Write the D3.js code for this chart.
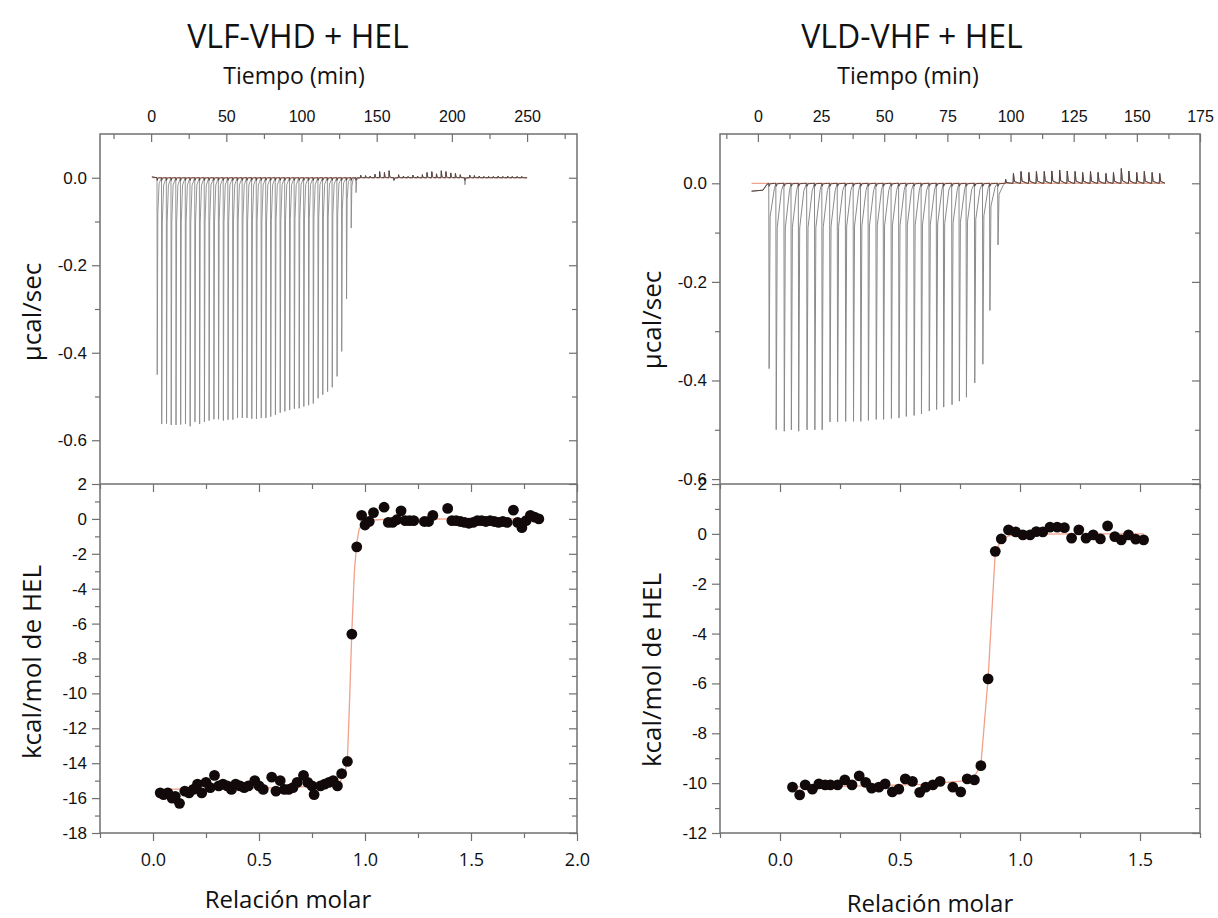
<!DOCTYPE html>
<html>
<head>
<meta charset="utf-8">
<title>ITC VLF-VHD / VLD-VHF + HEL</title>
<script src="https://cdn.jsdelivr.net/npm/d3@7"></script>
<style>
  body { margin: 0; background: #fff; }
</style>
</head>
<body>
<svg id="chart" width="1218" height="918"></svg>
<script>
// ---- data ----
// raw thermograms: [time (min), peak height (ucal/sec)]
var leftPeaks = [
  [3.9,-0.45],[6.9,-0.563],[10.1,-0.562],[13.2,-0.565],[16.4,-0.565],[19.5,-0.564],[22.7,-0.563],
  [25.8,-0.568],[29.0,-0.558],[32.1,-0.563],[35.3,-0.558],[38.4,-0.555],[41.6,-0.552],[44.7,-0.552],
  [47.9,-0.555],[51.0,-0.553],[54.2,-0.553],[57.3,-0.549],[60.5,-0.549],[63.6,-0.549],[66.8,-0.551],
  [69.9,-0.551],[73.1,-0.549],[76.2,-0.549],[79.4,-0.546],[82.5,-0.542],[85.7,-0.537],[88.8,-0.534],
  [92.0,-0.531],[95.1,-0.528],[98.3,-0.527],[101.4,-0.523],[104.6,-0.52],[107.7,-0.516],[110.9,-0.504],
  [114.0,-0.496],[117.2,-0.489],[120.3,-0.479],[123.5,-0.454],[126.6,-0.397],[129.8,-0.277],
  [132.9,-0.115],[136.1,-0.034],[139.2,0.006],[142.4,0.005],[145.5,0.004],[148.7,0.008],[151.8,0.014],
  [155.0,0.012],[158.1,0.016],[161.3,-0.006],[164.4,0.007],[167.6,0.004],[170.7,0.003],[173.9,0.006],
  [177.0,0.004],[180.2,0.007],[183.3,0.012],[186.5,0.014],[189.6,0.009],[192.8,0.016],[195.9,0.014],
  [199.1,0.011],[202.2,0.01],[205.4,0.007],[208.5,-0.016],[211.7,0.006],[214.8,0.005],[218.0,0.004],
  [221.1,0.003],[224.3,0.003],[227.4,0.003],[230.6,0.004],[233.7,0.003],[236.9,0.004],[240.0,0.003],
  [243.2,0.003],[246.3,0.003]
];
var rightPeaks = [
  [4.3,-0.376],[7.1,-0.50],[10.3,-0.503],[13.1,-0.50],[16.0,-0.503],[19.3,-0.50],[22.4,-0.50],
  [25.3,-0.50],[28.4,-0.484],[31.4,-0.484],[34.6,-0.483],[37.7,-0.483],[40.6,-0.483],[43.6,-0.481],
  [46.7,-0.479],[49.6,-0.479],[52.7,-0.477],[55.7,-0.476],[58.6,-0.473],[61.7,-0.471],[64.6,-0.468],
  [67.7,-0.462],[70.6,-0.459],[73.4,-0.454],[76.7,-0.449],[79.6,-0.442],[82.4,-0.434],[85.7,-0.405],
  [88.9,-0.367],[91.7,-0.258],[94.9,-0.125],[97.9,0.008],[101.0,0.02],[104.0,0.024],[107.1,0.022],
  [110.1,0.024],[113.2,0.024],[116.2,0.025],[119.3,0.027],[122.3,0.025],[125.4,0.024],[128.4,0.022],
  [131.5,0.024],[134.5,0.022],[137.6,0.02],[140.6,0.022],[143.7,0.03],[146.7,0.025],[149.8,0.022],
  [152.8,0.024],[155.9,0.022],[158.9,0.02]
];
var rightPreBase = [[-2.5,-0.016],[2.0,-0.014],[3.6,-0.002]];

// integrated heats: [molar ratio, kcal/mol]
var leftPoints = [
  [0.034,-15.7],[0.05,-15.8],[0.07,-15.7],[0.09,-16.0],[0.105,-15.9],[0.125,-16.3],[0.15,-15.6],
  [0.17,-15.7],[0.19,-15.5],[0.21,-15.2],[0.23,-15.7],[0.25,-15.1],[0.27,-15.4],[0.29,-14.7],
  [0.31,-15.3],[0.33,-15.2],[0.35,-15.3],[0.37,-15.5],[0.39,-15.2],[0.41,-15.3],[0.43,-15.4],
  [0.45,-15.3],[0.48,-15.0],[0.50,-15.3],[0.52,-15.5],[0.56,-14.8],[0.58,-15.6],[0.60,-15.0],
  [0.62,-15.5],[0.64,-15.5],[0.66,-15.4],[0.68,-15.1],[0.71,-14.7],[0.73,-15.1],[0.75,-15.3],
  [0.76,-15.8],[0.79,-15.3],[0.81,-15.2],[0.83,-15.1],[0.85,-15.0],[0.87,-15.3],[0.89,-14.6],
  [0.917,-13.9],[0.938,-6.6],[0.961,-1.6],[0.984,0.2],[1.00,-0.35],[1.02,-0.15],[1.04,0.36],
  [1.09,0.67],[1.11,-0.2],[1.13,-0.2],[1.15,-0.05],[1.17,0.46],[1.19,-0.1],[1.21,-0.1],[1.23,-0.1],
  [1.28,-0.15],[1.30,-0.15],[1.32,0.2],[1.39,0.6],[1.41,-0.1],[1.43,-0.1],[1.45,-0.15],[1.47,-0.2],
  [1.49,-0.25],[1.51,-0.2],[1.53,-0.1],[1.55,-0.1],[1.57,-0.15],[1.59,-0.1],[1.61,-0.15],[1.63,-0.2],
  [1.65,-0.15],[1.67,-0.2],[1.70,0.5],[1.72,-0.2],[1.74,-0.5],[1.76,-0.1],[1.78,0.2],[1.80,0.1],
  [1.82,0.0]
];
var rightPoints = [
  [0.052,-10.16],[0.082,-10.47],[0.105,-10.07],[0.135,-10.24],[0.162,-10.03],[0.188,-10.07],
  [0.21,-10.07],[0.24,-10.07],[0.27,-9.87],[0.30,-10.07],[0.33,-9.71],[0.357,-9.97],[0.382,-10.2],
  [0.412,-10.16],[0.438,-10.03],[0.468,-10.35],[0.495,-10.24],[0.522,-9.83],[0.552,-9.93],
  [0.582,-10.37],[0.607,-10.16],[0.637,-10.07],[0.667,-9.93],[0.72,-10.16],[0.753,-10.35],
  [0.78,-9.83],[0.81,-9.87],[0.837,-9.30],[0.867,-5.82],[0.897,-0.70],[0.922,-0.20],[0.952,0.16],
  [0.982,0.08],[1.012,-0.04],[1.042,-0.04],[1.068,0.09],[1.095,0.08],[1.125,0.27],[1.155,0.27],
  [1.185,0.25],[1.215,-0.17],[1.245,0.16],[1.275,-0.17],[1.305,-0.04],[1.335,-0.20],[1.365,0.32],
  [1.395,-0.11],[1.422,-0.24],[1.452,-0.04],[1.482,-0.21],[1.515,-0.24]
];

// fitted curves
var leftFit = [
  [0.034,-15.5],[0.3,-15.45],[0.6,-15.4],[0.8,-15.3],[0.88,-15.1],[0.905,-14.6],[0.917,-13.8],
  [0.927,-10.5],[0.938,-6.4],[0.95,-3.0],[0.961,-1.4],[0.972,-0.6],[0.99,-0.2],[1.02,-0.08],
  [1.1,-0.02],[1.5,0],[1.82,0]
];
var rightFit = [
  [0.052,-10.15],[0.3,-10.12],[0.6,-10.05],[0.78,-9.9],[0.815,-9.65],[0.837,-9.28],[0.867,-5.8],
  [0.897,-0.72],[0.922,-0.25],[0.952,-0.08],[1.0,-0.02],[1.2,0],[1.515,0]
];

// tick values
var leftTimeMajor = [0, 50, 100, 150, 200, 250];
var leftTimeMinor = [-25, 25, 75, 125, 175, 225, 275];
var rightTimeMajor = [0, 25, 50, 75, 100, 125, 150, 175];
var rightTimeMinor = [-12.5, 12.5, 37.5, 62.5, 87.5, 112.5, 137.5, 162.5];
var powerMajor = [-0.6, -0.4, -0.2, 0.0];
var powerMinor = [-0.5, -0.3, -0.1];
var leftHeatMajor = [-18, -16, -14, -12, -10, -8, -6, -4, -2, 0, 2];
var leftHeatMinor = [-17, -15, -13, -11, -9, -7, -5, -3, -1, 1];
var rightHeatMajor = [-12, -10, -8, -6, -4, -2, 0, 2];
var rightHeatMinor = [-11, -9, -7, -5, -3, -1, 1];
var leftRatioMajor = [0.0, 0.5, 1.0, 1.5, 2.0];
var leftRatioMinor = [-0.25, 0.25, 0.75, 1.25, 1.75];
var rightRatioMajor = [0.0, 0.5, 1.0, 1.5];
var rightRatioMinor = [-0.25, 0.25, 0.75, 1.25, 1.75];

var svg = d3.select("#chart");
svg.append("rect").attr("width", 1218).attr("height", 918).attr("fill", "#fff");

var top0 = 134, mid = 484, bot = 833;
var axisColor = "#707070";
var tickFont = "'Liberation Sans', Arial, sans-serif";
var labelFont = "'Open Sans', 'Noto Sans', sans-serif";

// plain hyphen instead of the unicode minus, like the original
function hyph(fmt) {
  var f = d3.format(fmt);
  return function(v) { return f(v).replace("\u2212", "-"); };
}

function addAxis(gen, transform, showText, fontFamily, size) {
  var g = svg.append("g").attr("transform", transform).call(gen);
  g.select(".domain").remove();
  g.selectAll(".tick line").attr("stroke", axisColor).attr("stroke-width", 1.2);
  g.selectAll(".tick text").attr("font-family", fontFamily || tickFont)
    .attr("font-size", size || 17).attr("fill", "#111");
  if (!showText) g.selectAll(".tick text").remove();
  return g;
}

// build a spike path from the peak list
function spikeTrace(peaks, pre, tail, endT) {
  var pts = pre.slice();
  peaks.forEach(function(p) {
    var t = p[0], d = p[1];
    pts.push([t, 0]);
    pts.push([t + 0.15, d]);
    pts.push([t + 0.55, d * 0.18]);
    pts.push([t + tail, d * 0.03]);
  });
  pts.push([endT, 0]);
  return pts;
}

function panel(o) {
  var xT = d3.scaleLinear().domain(o.timeDomain).range([o.x0, o.x1]);
  var yP = d3.scaleLinear().domain(o.powerDomain).range([mid, top0]);
  var xR = d3.scaleLinear().domain(o.ratioDomain).range([o.x0, o.x1]);
  var yH = d3.scaleLinear().domain(o.heatDomain).range([bot, mid]);

  // frames
  svg.append("rect").attr("x", o.x0).attr("y", top0).attr("width", o.x1 - o.x0).attr("height", bot - top0)
    .attr("fill", "none").attr("stroke", axisColor).attr("stroke-width", 1.5);
  svg.append("line").attr("x1", o.x0).attr("x2", o.x1).attr("y1", mid).attr("y2", mid)
    .attr("stroke", axisColor).attr("stroke-width", 1.5);

  // upper panel axes
  addAxis(d3.axisTop(xT).tickValues(o.timeMajor).tickSize(-8).tickPadding(12), "translate(0," + top0 + ")", true, tickFont, 16);
  addAxis(d3.axisTop(xT).tickValues(o.timeMinor).tickSize(-5), "translate(0," + top0 + ")", false);
  addAxis(d3.axisLeft(yP).tickValues(powerMajor).tickSize(8).tickPadding(5).tickFormat(hyph(".1f")), "translate(" + o.x0 + ",0)", true);
  addAxis(d3.axisLeft(yP).tickValues(powerMinor).tickSize(5), "translate(" + o.x0 + ",0)", false);
  addAxis(d3.axisRight(yP).tickValues(powerMajor).tickSize(-8), "translate(" + o.x1 + ",0)", false);
  addAxis(d3.axisRight(yP).tickValues(powerMinor).tickSize(-5), "translate(" + o.x1 + ",0)", false);

  // lower panel axes
  var narrow = "'Liberation Sans Narrow', 'Open Sans', sans-serif";
  addAxis(d3.axisBottom(xR).tickValues(o.ratioMajor).tickSize(8).tickPadding(12).tickFormat(hyph(".1f")), "translate(0," + bot + ")", true, narrow, 18);
  addAxis(d3.axisBottom(xR).tickValues(o.ratioMinor).tickSize(5), "translate(0," + bot + ")", false);
  addAxis(d3.axisTop(xR).tickValues(o.ratioMajor).tickSize(-8), "translate(0," + mid + ")", false);
  addAxis(d3.axisTop(xR).tickValues(o.ratioMinor).tickSize(-5), "translate(0," + mid + ")", false);
  addAxis(d3.axisLeft(yH).tickValues(o.heatMajor).tickSize(8).tickPadding(5).tickFormat(hyph("d")), "translate(" + o.x0 + ",0)", true);
  addAxis(d3.axisLeft(yH).tickValues(o.heatMinor).tickSize(5), "translate(" + o.x0 + ",0)", false);
  addAxis(d3.axisRight(yH).tickValues(o.heatMajor).tickSize(-8), "translate(" + o.x1 + ",0)", false);
  addAxis(d3.axisRight(yH).tickValues(o.heatMinor).tickSize(-5), "translate(" + o.x1 + ",0)", false);

  // raw thermogram
  var tline = d3.line().x(function(d) { return xT(d[0]); }).y(function(d) { return yP(d[1]); });
  svg.append("line").attr("x1", xT(o.baseStart)).attr("x2", xT(o.baseEnd))
    .attr("y1", yP(0)).attr("y2", yP(0)).attr("stroke", "#f0a58c").attr("stroke-width", 1.2);
  svg.append("path").attr("d", tline(spikeTrace(o.peaks, o.pre, o.tail, o.baseEnd)))
    .attr("fill", "none").attr("stroke", "#8a8a8a").attr("stroke-width", o.traceWidth);
  svg.append("path").attr("d", tline(spikeTrace(o.peaks.map(function(p) { return [p[0], Math.max(p[1], -0.006)]; }), o.pre, o.tail, o.baseEnd)))
    .attr("fill", "none").attr("stroke", "#5a4440").attr("stroke-width", 1);

  // integrated heats
  var hline = d3.line().x(function(d) { return xR(d[0]); }).y(function(d) { return yH(d[1]); });
  svg.append("path").attr("d", hline(o.fit)).attr("fill", "none")
    .attr("stroke", "#f2a088").attr("stroke-width", 1.3);
  svg.selectAll(null).data(o.points).enter().append("circle")
    .attr("cx", function(d) { return xR(d[0]); })
    .attr("cy", function(d) { return yH(d[1]); })
    .attr("r", 5.4).attr("fill", "#120a0a");

  // titles and axis labels
  var cx = o.titleX;
  svg.append("text").attr("x", cx).attr("y", 48).attr("text-anchor", "middle")
    .attr("font-family", labelFont).attr("font-size", 32).attr("fill", "#111").text(o.title);
  svg.append("text").attr("x", cx - 4).attr("y", 84).attr("text-anchor", "middle")
    .attr("font-family", labelFont).attr("font-size", 23).attr("fill", "#111").text("Tiempo (min)");
  svg.append("text").attr("x", o.molarX).attr("y", o.molarY).attr("text-anchor", "middle")
    .attr("font-family", labelFont).attr("font-size", 24).attr("fill", "#111").text("Relación molar");
  svg.append("text").attr("transform", "translate(" + o.ylabX + "," + o.powerLabY + ") rotate(-90)")
    .attr("text-anchor", "middle").attr("font-family", labelFont).attr("font-size", 26)
    .attr("fill", "#111").text("µcal/sec");
  svg.append("text").attr("transform", "translate(" + o.ylabX + "," + o.heatLabY + ") rotate(-90)")
    .attr("text-anchor", "middle").attr("font-family", labelFont).attr("font-size", 26)
    .attr("fill", "#111").text("kcal/mol de HEL");
}

panel({
  x0: 100, x1: 577,
  timeDomain: [-34, 283.2], powerDomain: [-0.7, 0.1],
  ratioDomain: [-0.25, 2.0], heatDomain: [-18, 2],
  timeMajor: leftTimeMajor, timeMinor: leftTimeMinor,
  ratioMajor: leftRatioMajor, ratioMinor: leftRatioMinor,
  heatMajor: leftHeatMajor, heatMinor: leftHeatMinor,
  peaks: leftPeaks, pre: [[0.5, 0.002]], tail: 1.4, baseStart: 0.5, baseEnd: 250, traceWidth: 0.9,
  points: leftPoints, fit: leftFit,
  title: "VLF-VHD + HEL", titleX: 298, molarX: 288, molarY: 908,
  ylabX: 41, powerLabY: 312, heatLabY: 662
});

panel({
  x0: 720, x1: 1200,
  timeDomain: [-15, 175], powerDomain: [-0.61, 0.1],
  ratioDomain: [-0.25, 1.75], heatDomain: [-12, 2],
  timeMajor: rightTimeMajor, timeMinor: rightTimeMinor,
  ratioMajor: rightRatioMajor, ratioMinor: rightRatioMinor,
  heatMajor: rightHeatMajor, heatMinor: rightHeatMinor,
  peaks: rightPeaks, pre: rightPreBase, tail: 2.2, baseStart: -2.5, baseEnd: 161, traceWidth: 1,
  points: rightPoints, fit: rightFit,
  title: "VLD-VHF + HEL", titleX: 912, molarX: 930, molarY: 912,
  ylabX: 661, powerLabY: 320, heatLabY: 670
});
</script>
</body>
</html>
